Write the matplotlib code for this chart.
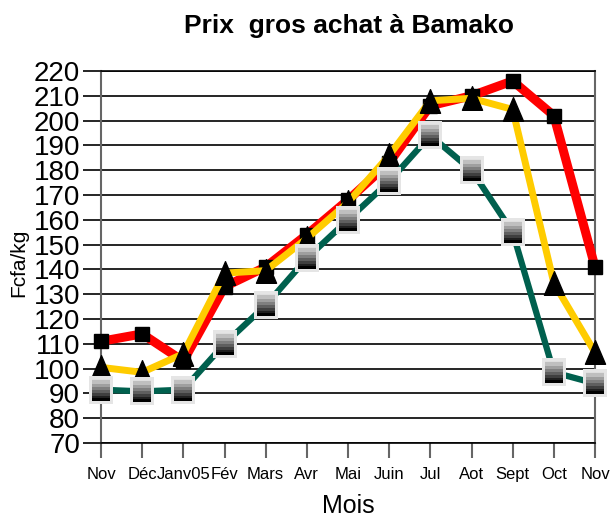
import numpy as np
import matplotlib
matplotlib.use('Agg')
import matplotlib.pyplot as plt
from matplotlib import font_manager
from matplotlib.path import Path
from matplotlib.offsetbox import OffsetImage, AnnotationBbox

months = ['Nov', 'Déc', 'Janv05', 'Fév', 'Mars', 'Avr', 'Mai', 'Juin', 'Jul',
          'Aot', 'Sept', 'Oct', 'Nov']
rouge = [111, 114, 103, 133, 141, 154, 168, 183, 206, 210, 216, 202, 141]
jaune = [100.5, 98.5, 106, 138.5, 139.5, 152.5, 167, 186, 208, 209, 204.5, 134.5, 106.5]
vert = [91.5, 90.8, 91.5, 110, 125.5, 144.5, 160, 175.5, 194, 180, 155, 98.5, 94]
yticks = list(range(70, 230, 10))

names = {f.name for f in font_manager.fontManager.ttflist}
narrow = 'Liberation Sans Narrow' if 'Liberation Sans Narrow' in names else 'Liberation Sans'
plt.rcParams['font.family'] = [narrow, 'DejaVu Sans']

fig = plt.figure(figsize=(6.11, 5.18), dpi=100)
ax = fig.add_axes([101/611, 75/518, 494/611, 372/518])

x = np.arange(len(months))

# tall triangle like the old spreadsheet marker
tri = Path([(-0.85, -1), (0.85, -1), (0, 1), (-0.85, -1)],
           [Path.MOVETO, Path.LINETO, Path.LINETO, Path.CLOSEPOLY])

ax.plot(x, rouge, color='#ff0000', lw=6.5, marker='s', ms=10.5,
        mfc='black', mec='black', solid_joinstyle='miter', zorder=3, clip_on=False)
ax.plot(x, jaune, color='#ffcc00', lw=5, marker=tri, ms=17,
        mfc='black', mec='black', solid_joinstyle='miter', zorder=4, clip_on=False)
ax.plot(x, vert, color='#00604e', lw=4.5, zorder=5, clip_on=False)

# gradient square markers for the third series
w, h, b = 24, 28, 3
img = np.full((h, w, 3), 0.9)
inner = h - 2 * b
levels = np.linspace(0.85, 0.0, inner)
levels = np.round(levels * 8) / 8
for i in range(inner):
    img[b + i, b:w - b] = levels[i]
img[h - b - 3:h - b, b:w - b] = 0.0
for xi, yi in zip(x, vert):
    ab = AnnotationBbox(OffsetImage(img, zoom=1, dpi_cor=False), (xi, yi),
                        frameon=False, pad=0, zorder=6, annotation_clip=False)
    ax.add_artist(ab)

ax.set_xlim(0, 12)
ax.set_ylim(70, 220)
ax.set_yticks(yticks)
ax.set_yticklabels([str(v) for v in yticks], fontsize=20)
ax.set_xticks(x)
ax.set_xticklabels(months, fontsize=12)
ax.set_xticks(x[::2], minor=True)

ax.tick_params(axis='y', length=13, width=1.2, color='black', pad=2)
ax.tick_params(axis='x', which='major', length=11, width=1.5, color='#666666', pad=6)
ax.tick_params(axis='x', which='minor', length=0)
ax.grid(axis='y', which='major', color='black', lw=1.2, zorder=1)
ax.grid(axis='x', which='minor', color='#666666', lw=1.5, zorder=1)
ax.grid(axis='x', which='major', visible=False)

for s in ['left', 'right']:
    ax.spines[s].set_color('#666666')
    ax.spines[s].set_linewidth(1.5)
ax.spines['top'].set_color('black')
ax.spines['top'].set_linewidth(1.2)
ax.spines['bottom'].set_color('black')
ax.spines['bottom'].set_linewidth(1.2)

ax.set_xlabel('Mois', fontsize=18, labelpad=9)
fig.text(19/611, 1 - 263/518, 'Fcfa/kg', rotation=90, fontsize=15,
         ha='center', va='center')
fig.text(349/611, 1 - 26/518, 'Prix  gros achat à Bamako', fontsize=19,
         fontweight='bold', ha='center', va='center')

fig.savefig('out.png', dpi=100)
